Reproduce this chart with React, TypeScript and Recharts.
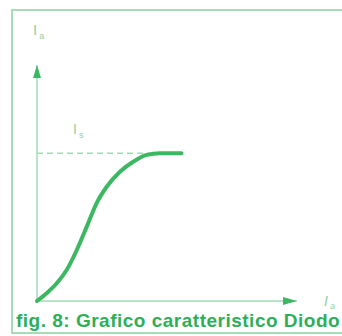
import React from 'react';
import { LineChart, Line, XAxis, YAxis, ReferenceLine, ReferenceDot } from 'recharts';

// diode characteristic (arbitrary units 0..100)
const voltage = [0, 3.7, 7.6, 11.4, 15.3, 19.1, 22.9, 26.8, 31.9, 37.0, 42.2, 47.3, 55.6];
const current = [0, 3.3, 7.5, 13.1, 21.6, 31.4, 41.4, 48.4, 54.8, 59.0, 61.9, 62.6, 62.6];
const saturation = 62.6;
const saturationEnd = 45;
const axisMax = 100;

const CAPTION = 'fig. 8: Grafico caratteristico Diodo';

const CURVE = '#3cb862';
const AXIS = '#a3dbb4';
const LABEL = '#8fd0a3';
const FRAME = '#a6ddb6';
const FONT = '"Liberation Sans", Arial, sans-serif';

const data = voltage.map((v, i) => ({ v, i: current[i] }));

const YArrow = (props: any) => {
    const { cx, cy } = props;
    return (
        <g>
            <polygon points={`${cx},${cy} ${cx - 4},${cy + 13} ${cx + 4},${cy + 13}`} fill={CURVE} />
            <text x={cx - 4} y={cy - 30} fill={LABEL} fontSize={15} fontFamily={FONT}>
                I<tspan fontSize={9} dx={2} dy={4}>a</tspan>
            </text>
        </g>
    );
};

const XArrow = (props: any) => {
    const { cx, cy } = props;
    return (
        <g>
            <polygon points={`${cx},${cy} ${cx - 14},${cy - 4} ${cx - 14},${cy + 4}`} fill={CURVE} />
            <text x={cx + 27} y={cy + 5} fill={LABEL} fontSize={14} fontStyle="italic" fontFamily={FONT}>
                I<tspan fontSize={9} dx={2} dy={3}>a</tspan>
            </text>
        </g>
    );
};

const SatLabel = (props: any) => {
    const { cx, cy } = props;
    return (
        <text x={cx + 36} y={cy - 19} fill={LABEL} fontSize={14} fontFamily={FONT}>
            I<tspan fontSize={9} dx={2} dy={4}>s</tspan>
        </text>
    );
};

export default function App() {
    return (
        <div style={{ position: 'absolute', left: 0, top: 0, width: 342, height: 336, background: '#fff', overflow: 'hidden' }}>
            {/* frame */}
            <div style={{ position: 'absolute', left: 11, top: 9, width: 340, height: 321, border: `2px solid ${FRAME}` }} />

            <div style={{ position: 'absolute', left: 0, top: 0 }}>
                <LineChart width={342} height={336} data={data} margin={{ top: 65, right: 45, bottom: 35, left: 37 }}>
                    <XAxis type="number" dataKey="v" domain={[0, axisMax]} hide />
                    <YAxis type="number" domain={[0, axisMax]} hide />
                    <ReferenceLine y={0} stroke={AXIS} strokeWidth={1.5} />
                    <ReferenceLine x={0} stroke={AXIS} strokeWidth={1.5} />
                    <ReferenceLine
                        segment={[{ x: 0, y: saturation }, { x: saturationEnd, y: saturation }]}
                        stroke={AXIS}
                        strokeWidth={1.5}
                        strokeDasharray="6 4"
                    />
                    <Line
                        type="monotone"
                        dataKey="i"
                        stroke={CURVE}
                        strokeWidth={4}
                        strokeLinecap="round"
                        dot={false}
                        isAnimationActive={false}
                    />
                    <ReferenceDot x={0} y={axisMax} r={0} shape={YArrow} />
                    <ReferenceDot x={axisMax} y={0} r={0} shape={XArrow} />
                    <ReferenceDot x={0} y={saturation} r={0} shape={SatLabel} />
                </LineChart>
            </div>

            <div style={{
                position: 'absolute', left: 16, top: 313, whiteSpace: 'nowrap',
                fontFamily: FONT, fontWeight: 'bold', fontSize: 19, lineHeight: '15px',
                letterSpacing: 0.5, color: '#2eaf57'
            }}>
                {CAPTION}
            </div>
        </div>
    );
}
